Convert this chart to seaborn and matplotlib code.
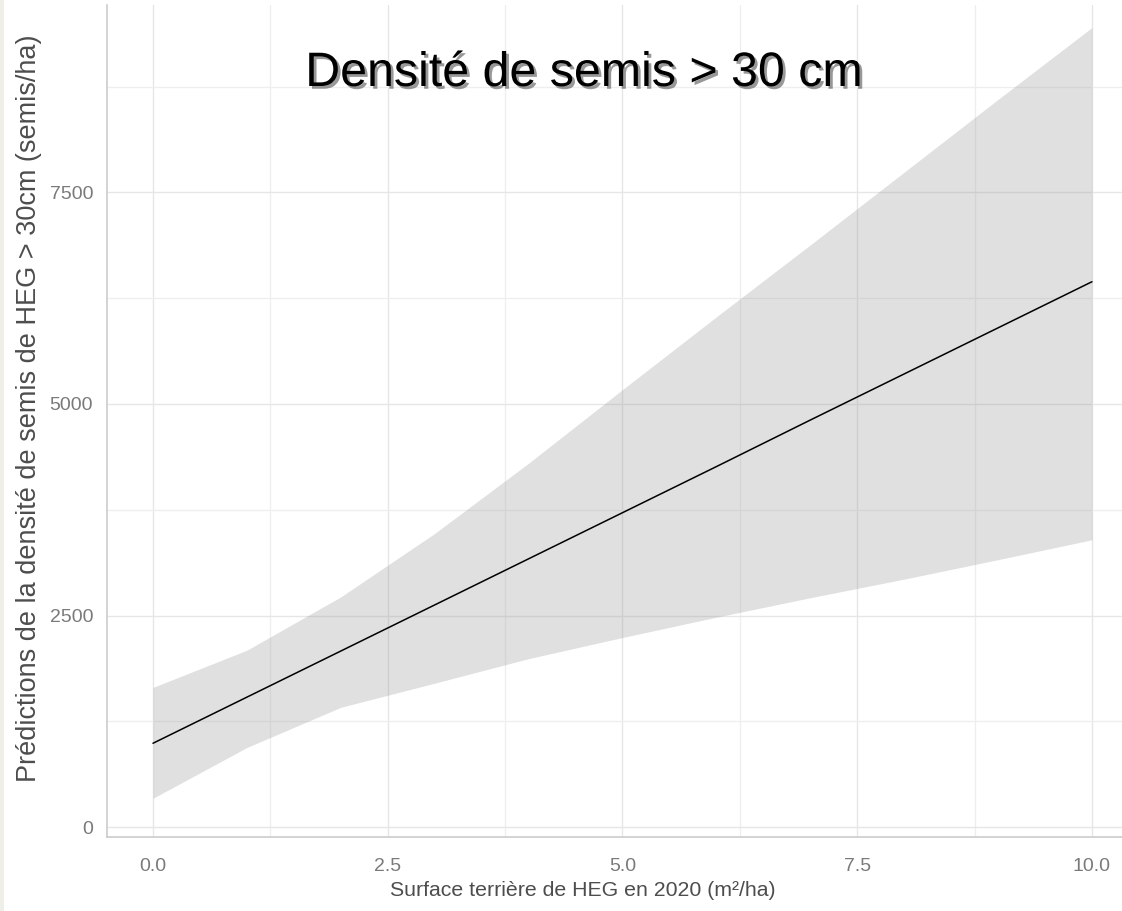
import seaborn as sns
import pandas as pd
import matplotlib.pyplot as plt
import matplotlib.patheffects as pe
from matplotlib.ticker import MultipleLocator, FixedLocator, FixedFormatter
from matplotlib.patches import Rectangle

# values
surface = [0, 1, 2, 3, 4, 5, 6, 7, 8, 9, 10]
prediction = [990, 1535, 2080, 2625, 3170, 3715, 4260, 4810, 5355, 5900, 6445]
ci_low = [340, 940, 1415, 1700, 1990, 2240, 2480, 2710, 2930, 3160, 3395]
ci_high = [1650, 2090, 2720, 3470, 4300, 5170, 6030, 6880, 7740, 8600, 9450]

x_ticks = [0.0, 2.5, 5.0, 7.5, 10.0]
x_labels = ["0.0", "2.5", "5.0", "7.5", "10.0"]
y_ticks = [0, 2500, 5000, 7500]
y_labels = ["0", "2500", "5000", "7500"]

title = "Densité de semis > 30 cm"
x_title = "Surface terrière de HEG en 2020 (m²/ha)"
y_title = "Prédictions de la densité de semis de HEG > 30cm (semis/ha)"


def build_frame():
    return pd.DataFrame({"surface": surface, "prediction": prediction,
                         "low": ci_low, "high": ci_high})


def plot_predictions(df):
    sns.set_theme(style="whitegrid")
    plt.rcParams['font.family'] = ['Liberation Sans', 'DejaVu Sans']

    W, H = 1122, 911
    fig = plt.figure(figsize=(W / 100, H / 100), dpi=100)
    fig.patch.set_facecolor("white")
    # thin greyish strip on the left edge of the screenshot
    fig.patches.append(Rectangle((0, 0), 4 / W, 1, transform=fig.transFigure,
                                 facecolor="#efeee9", edgecolor="none"))

    ax = fig.add_axes([107 / W, (H - 837) / H, 1 - 107 / W, (837 - 5) / H])
    ax.set_facecolor("white")

    ax.fill_between(df["surface"], df["low"], df["high"],
                    color="#999999", alpha=0.3, linewidth=0, zorder=2)
    sns.lineplot(data=df, x="surface", y="prediction", ax=ax,
                 color="black", linewidth=1.1, zorder=3)

    ax.set_xlim(-0.49, 10.32)
    ax.set_ylim(-118, 9716)

    ax.xaxis.set_major_locator(FixedLocator(x_ticks))
    ax.xaxis.set_major_formatter(FixedFormatter(x_labels))
    ax.yaxis.set_major_locator(FixedLocator(y_ticks))
    ax.yaxis.set_major_formatter(FixedFormatter(y_labels))
    ax.xaxis.set_minor_locator(MultipleLocator(1.25))
    ax.yaxis.set_minor_locator(MultipleLocator(1250))

    ax.grid(which="major", color="#e6e6e6", linewidth=1.0)
    ax.grid(which="minor", color="#eeeeee", linewidth=0.9)
    ax.set_axisbelow(True)

    for side in ["top", "right"]:
        ax.spines[side].set_visible(False)
    for side in ["left", "bottom"]:
        ax.spines[side].set_visible(True)
        ax.spines[side].set_color("#cccccc")
        ax.spines[side].set_linewidth(1.2)

    ax.tick_params(axis="both", which="both", length=0, labelsize=14,
                   labelcolor="#7a7a7a")
    ax.tick_params(axis="x", pad=15)
    ax.tick_params(axis="y", pad=10)
    ax.set_xlabel("")
    ax.set_ylabel("")

    fig.text(583 / W, 1 - 891 / H, x_title, ha="center", va="center",
             fontsize=15.3, color="#4d4d4d")
    fig.text(29 / W, 1 - 408 / H, y_title, ha="center", va="center",
             rotation=90, fontsize=19.5, color="#4d4d4d")

    fig.text(584.5 / W, 1 - 86 / H, title, ha="center", va="baseline",
             fontsize=34.8, color="black",
             path_effects=[pe.SimplePatchShadow(offset=(2, -2), shadow_rgbFace="#444444", alpha=0.55),
                           pe.Normal()])

    fig.savefig("out.png", dpi=100)


def main():
    df = build_frame()
    plot_predictions(df)


if __name__ == "__main__":
    main()
